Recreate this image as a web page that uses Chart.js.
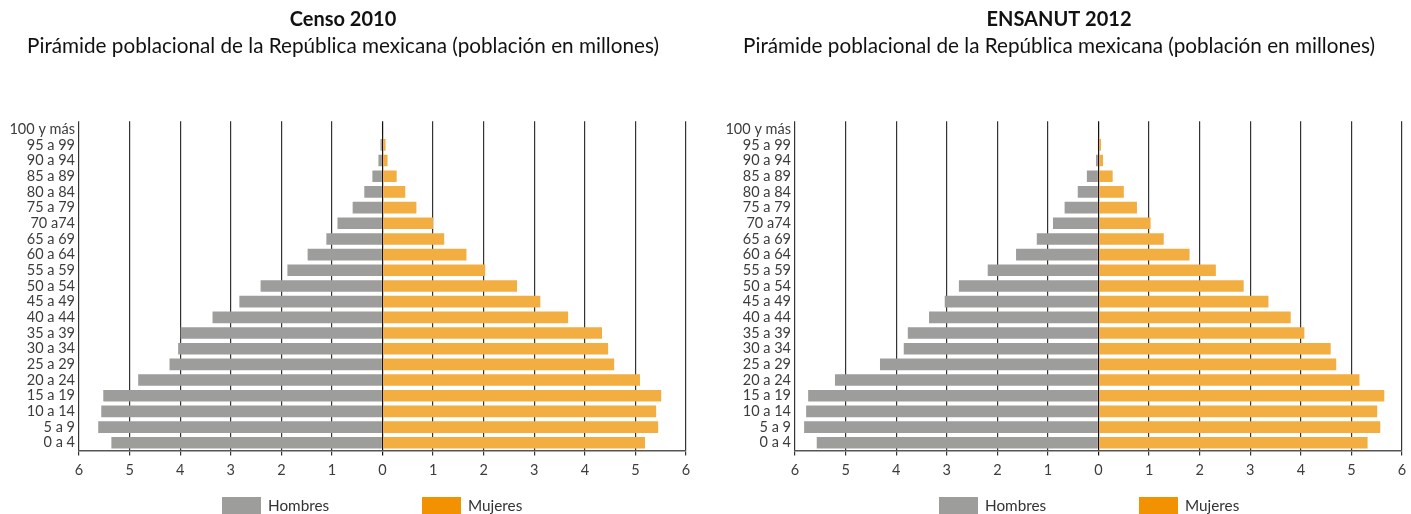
<!DOCTYPE html>
<html>
<head>
<meta charset="utf-8">
<script src="https://cdn.jsdelivr.net/npm/chart.js@4.4.0/dist/chart.umd.min.js"></script>
<style>
    body { margin: 0; background: #fff; width: 1411px; height: 514px; overflow: hidden; font-family: Lato, sans-serif; }
    .panel { position: absolute; top: 0; width: 697px; height: 514px; }
    .panel canvas { position: absolute; left: 0; top: 0; }
    .legend { position: absolute; top: 497px; left: 0; width: 697px; height: 17px; }
    .legend .item { position: absolute; top: 0; height: 17px; font-size: 15.3px; color: #333; line-height: 17px; }
    .legend .box { display: inline-block; width: 39px; height: 17px; vertical-align: top; margin-right: 7px; }
</style>
</head>
<body>
<div class="panel" style="left:0px">
    <canvas id="censoChart" width="697" height="514"></canvas>
    <div class="legend">
        <div class="item" style="left:222px"><span class="box" style="background:#9d9d9c"></span>Hombres</div>
        <div class="item" style="left:422px"><span class="box" style="background:#f39200"></span>Mujeres</div>
    </div>
</div>
<div class="panel" style="left:716px">
    <canvas id="ensanutChart" width="697" height="514"></canvas>
    <div class="legend">
        <div class="item" style="left:223px"><span class="box" style="background:#9d9d9c"></span>Hombres</div>
        <div class="item" style="left:423px"><span class="box" style="background:#f39200"></span>Mujeres</div>
    </div>
</div>
<script>
// Age groups, top to bottom
const ageGroups = ['100 y más', '95 a 99', '90 a 94', '85 a 89', '80 a 84', '75 a 79', '70 a74',
    '65 a 69', '60 a 64', '55 a 59', '50 a 54', '45 a 49', '40 a 44', '35 a 39', '30 a 34',
    '25 a 29', '20 a 24', '15 a 19', '10 a 14', '5 a 9', '0 a 4'];

// Censo 2010 (millones)
const hombres2010 = [0.01, 0.04, 0.08, 0.2, 0.36, 0.59, 0.89, 1.11, 1.48, 1.88, 2.41,
    2.83, 3.36, 3.99, 4.04, 4.21, 4.83, 5.52, 5.56, 5.62, 5.36];
const mujeres2010 = [0.01, 0.06, 0.1, 0.28, 0.45, 0.67, 1.0, 1.22, 1.66, 2.03, 2.66,
    3.12, 3.67, 4.34, 4.46, 4.58, 5.09, 5.51, 5.41, 5.45, 5.19];

// ENSANUT 2012 (millones)
const hombres2012 = [0.0, 0.01, 0.05, 0.23, 0.41, 0.67, 0.9, 1.22, 1.63, 2.19, 2.76,
    3.04, 3.35, 3.77, 3.85, 4.32, 5.21, 5.74, 5.78, 5.82, 5.57];
const mujeres2012 = [0.01, 0.05, 0.09, 0.28, 0.5, 0.76, 1.03, 1.29, 1.8, 2.32, 2.87,
    3.36, 3.8, 4.07, 4.59, 4.7, 5.16, 5.65, 5.51, 5.57, 5.32];

const xTicks = [-6, -5, -4, -3, -2, -1, 0, 1, 2, 3, 4, 5, 6];

const SUBTITLE = 'Pirámide poblacional de la República mexicana (población en millones)';

function buildPyramid(canvasId, title, men, women) {
    const ctx = document.getElementById(canvasId);
    return new Chart(ctx, {
        type: 'bar',
        data: {
            labels: ageGroups,
            datasets: [{
                label: 'Hombres',
                data: men.map(v => -v),
                backgroundColor: '#9d9d9c',
                borderWidth: 0
            }, {
                label: 'Mujeres',
                data: women,
                backgroundColor: '#f3ae42',
                borderWidth: 0
            }]
        },
        options: {
            indexAxis: 'y',
            responsive: false,
            animation: false,
            maintainAspectRatio: false,
            barPercentage: 0.74,
            categoryPercentage: 1,
            layout: { padding: { left: 0, right: 11, top: 0, bottom: 29 } },
            plugins: {
                legend: { display: false },
                tooltip: { enabled: false },
                title: {
                    display: true,
                    text: title,
                    color: '#111',
                    font: { family: 'Lato', size: 20, weight: 'bold' },
                    padding: { top: 8, bottom: 0 }
                },
                subtitle: {
                    display: true,
                    text: SUBTITLE,
                    color: '#111',
                    font: { family: 'Lato', size: 20.7 },
                    padding: { top: 2, bottom: 62.5 }
                }
            },
            scales: {
                x: {
                    stacked: true,
                    min: -6,
                    max: 6,
                    afterBuildTicks: scale => { scale.ticks = xTicks.map(v => ({ value: v })); },
                    ticks: {
                        callback: v => Math.abs(v),
                        color: '#3c3c3c',
                        font: { family: 'Lato', size: 14.5 },
                        padding: 6,
                        maxRotation: 0
                    },
                    grid: {
                        color: c => c.tick && c.tick.value === 0 ? '#111' : '#333',
                        lineWidth: 1.2,
                        drawTicks: true,
                        tickLength: 5
                    },
                    border: { display: true, color: '#555', width: 1.5 }
                },
                y: {
                    stacked: true,
                    afterFit: scale => { scale.width = 79; },
                    ticks: {
                        color: '#3c3c3c',
                        font: { family: 'Lato', size: 14.5 },
                        padding: 4,
                        autoSkip: false
                    },
                    grid: { display: false, drawTicks: false },
                    border: { display: false }
                }
            }
        }
    });
}

buildPyramid('censoChart', 'Censo 2010', hombres2010, mujeres2010);
buildPyramid('ensanutChart', 'ENSANUT 2012', hombres2012, mujeres2012);
</script>
</body>
</html>
